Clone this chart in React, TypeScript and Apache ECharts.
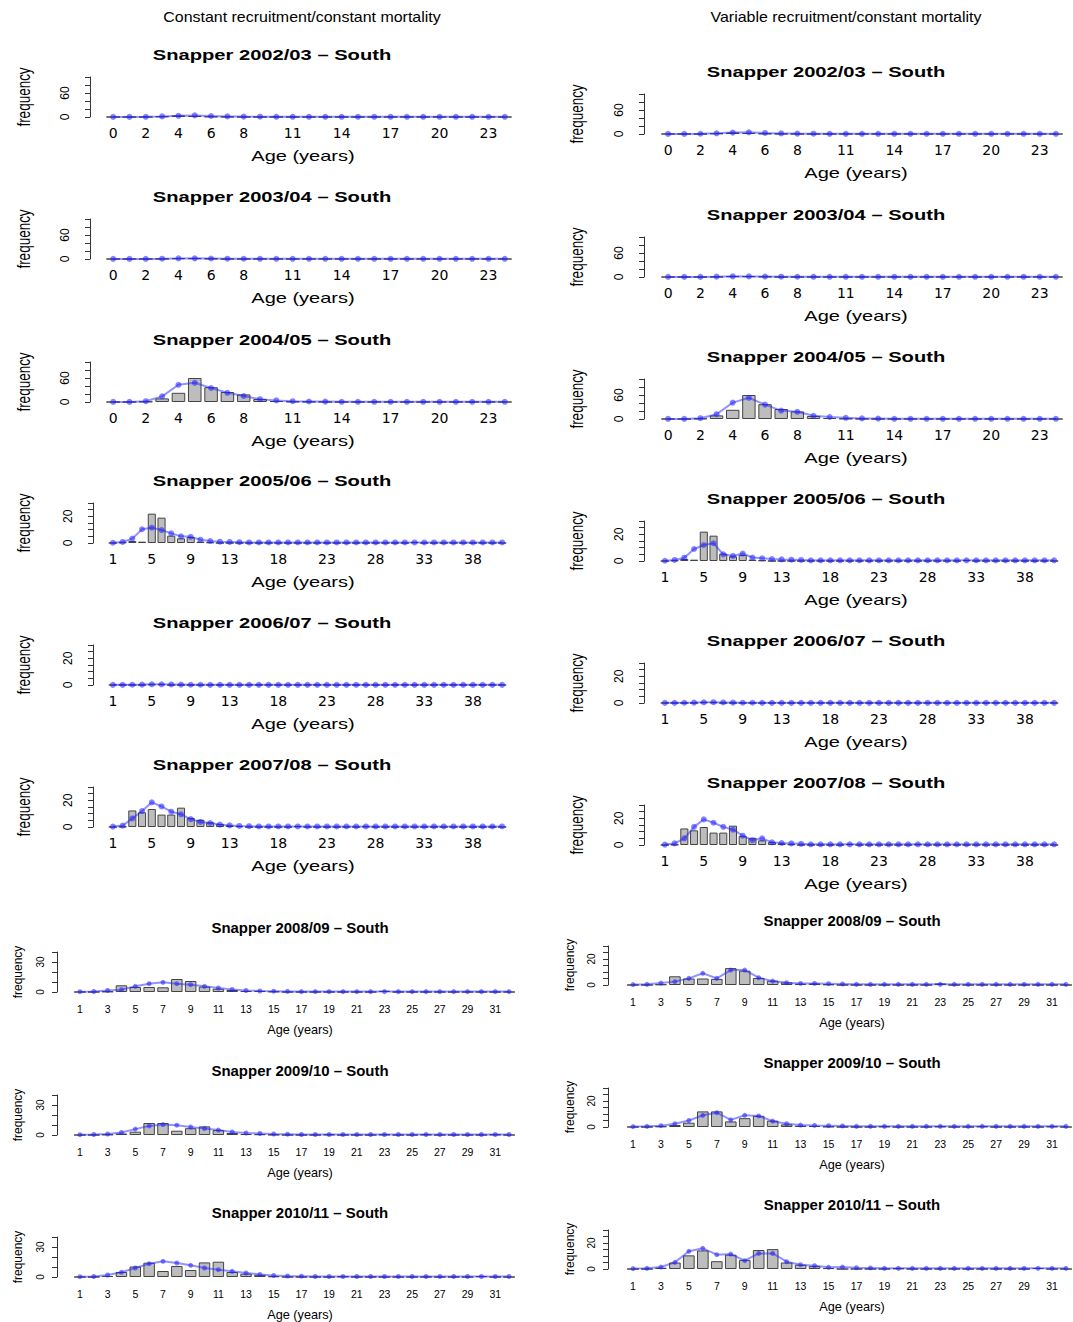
import React, { useEffect, useRef } from "react";
import * as echarts from "echarts";

// ---------- categories ----------
const agesA = ["0", "1", "2", "3", "4", "5", "6", "7", "8", "9", "10", "11", "12", "13", "14", "15", "16", "17", "18", "19", "20", "21", "22", "23", "24"];
const agesB = ["1", "2", "3", "4", "5", "6", "7", "8", "9", "10", "11", "12", "13", "14", "15", "16", "17", "18", "19", "20", "21", "22", "23", "24", "25", "26", "27", "28", "29", "30", "31", "32", "33", "34", "35", "36", "37", "38", "39", "40", "41"];
const agesC = ["1", "2", "3", "4", "5", "6", "7", "8", "9", "10", "11", "12", "13", "14", "15", "16", "17", "18", "19", "20", "21", "22", "23", "24", "25", "26", "27", "28", "29", "30", "31", "32"];

// ---------- tick labels that are shown ----------
const xTicksA = ["0", "2", "4", "6", "8", "11", "14", "17", "20", "23"];
const xTicksB = ["1", "5", "9", "13", "18", "23", "28", "33", "38"];
const xTicksC = ["1", "3", "5", "7", "9", "11", "13", "15", "17", "19", "21", "23", "25", "27", "29", "31"];
const yTicks60 = [0, 60];
const yTicks20 = [0, 20];
const yTicks30 = [0, 30];

// ---------- observed (bars), shared by both columns ----------
const obs0203 = [0, 0, 0, 1.5, 4, 3, 1, 0.5, 0, 0, 0, 0, 0, 0, 0, 0, 0, 0, 0, 0, 0, 0, 0, 0, 0];
const obs0304 = [0, 0, 0, 0.5, 2, 2, 1, 0, 0, 0, 0, 0, 0, 0, 0, 0, 0, 0, 0, 0, 0, 0, 0, 0, 0];
const obs0405 = [0, 0, 1, 9, 23, 60, 37, 25, 19, 7.5, 2.5, 1, 0.5, 0, 0, 0, 0, 0, 0, 0, 0, 0, 0, 0, 0];
const obs0506 = [0, 0.5, 1.5, 1, 22, 19, 5.5, 3.5, 4.5, 1, 0.5, 0, 0, 0, 0, 0, 0, 0, 0, 0, 0, 0, 0, 0, 0, 0, 0, 0, 0, 0, 0, 0.6, 0, 0, 0, 0, 0, 0, 0, 0, 0];
const obs0607 = [0, 0, 0, 0, 0.5, 0.5, 0, 0, 0, 0, 0, 0, 0, 0, 0, 0, 0, 0, 0, 0, 0, 0, 0, 0, 0, 0, 0, 0, 0, 0, 0, 0, 0, 0, 0, 0, 0, 0, 0, 0, 0];
const obs0708 = [0, 0.3, 12.4, 11, 13.5, 9.3, 9.3, 14.5, 6.8, 5.4, 3.5, 2.2, 1.2, 0.6, 0, 0, 0, 0, 0, 0.6, 0, 0, 0, 0, 0, 0, 0.4, 0, 0, 0, 0, 0, 0, 0, 0, 0, 0, 0, 0, 0, 0];
const obs0809 = [0, 0, 0.5, 6.7, 5, 5, 4.7, 13, 11, 5.4, 3.3, 2, 1, 1.2, 0.5, 0, 0, 0, 0, 0, 0, 0, 1.2, 0, 0, 0, 0, 0, 0, 0, 0, 0];
const obs0910 = [0, 0, 0.5, 1.5, 3.3, 12, 12, 4.3, 6.8, 8.6, 4.9, 2, 1, 0.8, 0.3, 0, 0, 0, 0.4, 0, 0, 0, 0.4, 0, 0, 0.4, 0, 0, 0, 0, 0.4, 0];
const obs1011 = [0, 0, 1, 5, 10.5, 14.3, 6, 11, 7, 14.6, 15.3, 5, 3.3, 2.2, 0.7, 0, 0, 0, 0, 0.5, 0, 0, 0, 0, 0, 0, 0, 0, 0, 0.8, 0, 0];

// ---------- expected (line), constant recruitment (left) ----------
const exp0203L = [0.3, 0.3, 0.5, 1.5, 3, 4, 2.5, 1.5, 1, 0.8, 0.5, 0.5, 0.5, 0.5, 0.5, 0.5, 0.5, 0.5, 0.5, 0.5, 0.5, 0.5, 0.5, 0.5, 0.5];
const exp0304L = [0.3, 0.3, 0.3, 0.8, 1.5, 1.6, 1.2, 0.8, 0.6, 0.5, 0.5, 0.5, 0.5, 0.5, 0.5, 0.5, 0.5, 0.5, 0.5, 0.5, 0.5, 0.5, 0.5, 0.5, 0.5];
const exp0405L = [0.3, 0.3, 2, 14, 43, 48, 35, 23, 15, 7, 4, 2, 1.2, 1, 0.5, 0.5, 0.5, 0.5, 0.5, 0.5, 0.5, 0.5, 0.5, 0.5, 0.5];
const exp0506L = [0.2, 0.8, 3.3, 10.3, 11.5, 9.7, 7.2, 5, 4.6, 2.5, 1.5, 1, 0.8, 0.6, 0.4, 0.4, 0.4, 0.4, 0.4, 0.4, 0.4, 0.4, 0.4, 0.4, 0.4, 0.4, 0.4, 0.4, 0.4, 0.4, 0.4, 0.4, 0.4, 0.4, 0.4, 0.4, 0.4, 0.4, 0.4, 0.4, 0.4];
const exp0607L = [0.1, 0.1, 0.2, 0.3, 0.5, 0.5, 0.4, 0.3, 0.2, 0.2, 0.1, 0.1, 0.1, 0.1, 0.1, 0.1, 0.1, 0.1, 0.1, 0.1, 0.1, 0.1, 0.1, 0.1, 0.1, 0.1, 0.1, 0.1, 0.1, 0.1, 0.1, 0.1, 0.1, 0.1, 0.1, 0.1, 0.1, 0.1, 0.1, 0.1, 0.1];
const exp0708L = [0.3, 1, 6.4, 12, 18.5, 15.4, 11.5, 9.5, 5.9, 3.8, 3, 1.8, 1.2, 0.8, 0.6, 0.4, 0.4, 0.4, 0.4, 0.4, 0.4, 0.4, 0.4, 0.4, 0.4, 0.4, 0.4, 0.4, 0.4, 0.4, 0.4, 0.4, 0.4, 0.4, 0.4, 0.4, 0.4, 0.4, 0.4, 0.4, 0.4];
const exp0809L = [0.3, 0.5, 1.5, 2.3, 5.7, 8.3, 9.7, 8.3, 7.3, 5.7, 4, 2.5, 1.5, 1, 0.8, 0.6, 0.4, 0.4, 0.4, 0.4, 0.4, 0.4, 0.4, 0.4, 0.4, 0.4, 0.4, 0.4, 0.4, 0.4, 0.4, 0.4];
const exp0910L = [0.3, 0.5, 1, 2.5, 5.9, 9.1, 10.4, 9.8, 8, 6.5, 4.9, 3, 2, 1.5, 1, 0.8, 0.5, 0.5, 0.5, 0.5, 0.5, 0.5, 0.5, 0.5, 0.5, 0.5, 0.5, 0.5, 0.5, 0.5, 0.5, 0.5];
const exp1011L = [0.3, 0.5, 2, 4.7, 9, 13.3, 15.7, 14, 11.7, 9, 7.3, 5.7, 4, 2.5, 1.5, 1, 0.8, 0.5, 0.5, 0.5, 0.5, 0.5, 0.5, 0.5, 0.5, 0.5, 0.5, 0.5, 0.5, 0.5, 0.5, 0.5];

// ---------- expected (line), variable recruitment (right) ----------
const exp0203R = [0.3, 0.3, 0.6, 1.8, 3.5, 4.2, 2.6, 1.5, 1, 0.8, 0.5, 0.5, 0.5, 0.5, 0.5, 0.5, 0.5, 0.5, 0.5, 0.5, 0.5, 0.5, 0.5, 0.5, 0.5];
const exp0304R = [0.3, 0.3, 0.3, 0.9, 1.6, 1.5, 1.1, 0.8, 0.6, 0.5, 0.5, 0.5, 0.5, 0.5, 0.5, 0.5, 0.5, 0.5, 0.5, 0.5, 0.5, 0.5, 0.5, 0.5, 0.5];
const exp0405R = [0.3, 0.3, 2, 12, 41, 53, 36, 21, 18, 8, 5, 3, 1.5, 1, 0.5, 0.5, 0.5, 0.5, 0.5, 0.5, 0.5, 0.5, 0.5, 0.5, 0.5];
const exp0506R = [0.2, 0.8, 2.5, 9, 12, 13.3, 5, 3.8, 5.6, 2.6, 2, 1.5, 1.2, 1, 0.8, 0.5, 0.5, 0.5, 0.5, 0.5, 0.5, 0.5, 0.5, 0.5, 0.5, 0.5, 0.5, 0.5, 0.5, 0.5, 0.5, 0.5, 0.5, 0.5, 0.5, 0.5, 0.5, 0.5, 0.5, 0.5, 0.5];
const exp0607R = [0.1, 0.1, 0.2, 0.3, 0.5, 0.6, 0.4, 0.3, 0.2, 0.2, 0.1, 0.1, 0.1, 0.1, 0.1, 0.1, 0.1, 0.1, 0.1, 0.1, 0.1, 0.1, 0.1, 0.1, 0.1, 0.1, 0.1, 0.1, 0.1, 0.1, 0.1, 0.1, 0.1, 0.1, 0.1, 0.1, 0.1, 0.1, 0.1, 0.1, 0.1];
const exp0708R = [0.3, 1.2, 5, 13.6, 19.2, 16.7, 13.6, 11.5, 7, 3.5, 5, 2, 1.5, 1.2, 0.9, 0.5, 0.5, 0.5, 0.5, 0.5, 0.5, 0.5, 0.5, 0.5, 0.5, 0.5, 0.5, 0.5, 0.5, 0.5, 0.5, 0.5, 0.5, 0.5, 0.5, 0.5, 0.5, 0.5, 0.5, 0.5, 0.5];
const exp0809R = [0.3, 0.5, 1.5, 2.6, 5.1, 9, 5.1, 11.5, 11.5, 5.6, 3, 1.8, 1.2, 1.2, 1, 0.8, 0.5, 0.5, 0.5, 0.5, 0.5, 0.5, 0.5, 0.5, 0.5, 0.5, 0.5, 0.5, 0.5, 0.5, 0.5, 0.5];
const exp0910R = [0.3, 0.5, 1, 2.5, 5, 9, 11, 5.5, 9, 8.5, 4.5, 2.5, 1.5, 1.2, 1, 0.8, 0.5, 0.5, 0.5, 0.5, 0.5, 0.5, 0.5, 0.5, 0.5, 0.5, 0.5, 0.5, 0.5, 0.5, 0.5, 0.5];
const exp1011R = [0.3, 0.5, 1.5, 5.1, 13.6, 15.9, 11, 11.5, 6.4, 12, 12, 5.6, 3.3, 2.5, 1.3, 1.5, 1, 0.8, 0.5, 0.5, 0.5, 0.5, 0.5, 0.5, 0.5, 0.5, 0.5, 0.5, 0.5, 0.5, 0.5, 0.5];

const years = ["2002/03", "2003/04", "2004/05", "2005/06", "2006/07", "2007/08", "2008/09", "2009/10", "2010/11"];
const observed = [obs0203, obs0304, obs0405, obs0506, obs0607, obs0708, obs0809, obs0910, obs1011];
const expectedL = [exp0203L, exp0304L, exp0405L, exp0506L, exp0607L, exp0708L, exp0809L, exp0910L, exp1011L];
const expectedR = [exp0203R, exp0304R, exp0405R, exp0506R, exp0607R, exp0708R, exp0809R, exp0910R, exp1011R];
const colTitles = ["Constant recruitment/constant mortality", "Variable recruitment/constant mortality"];

// ---------- layout (positions only) ----------
const titleYs = [
  [55, 197, 340, 481, 623, 765, 928, 1071, 1213],
  [72, 215, 357, 499, 641, 783, 921, 1063, 1205],
];

const SANS = "Liberation Sans, Arial, Helvetica, sans-serif";
const WIDE = "DejaVu Sans, Verdana, sans-serif";

function buildOption() {
  const grids: any[] = [];
  const xAxes: any[] = [];
  const yAxes: any[] = [];
  const series: any[] = [];
  const graphics: any[] = [];

  const txt = (text: string, x: number, y: number, font: string, sx = 1, sy = 1, rot = 0) => ({
    type: "text",
    x,
    y,
    scaleX: sx,
    scaleY: sy,
    rotation: rot,
    silent: true,
    style: {
      text,
      font,
      fill: "#000",
      textAlign: "center",
      textVerticalAlign: "middle",
      align: "center",
      verticalAlign: "middle",
    },
  });

  graphics.push(txt(colTitles[0], 302, 17, `14px ${SANS}`, 1.14));
  graphics.push(txt(colTitles[1], 846, 17, `14px ${SANS}`, 1.14));

  let idx = 0;
  for (let col = 0; col < 2; col++) {
    for (let row = 0; row < 9; row++) {
      const tY = titleYs[col][row];
      const top = row < 6;
      const kind = row < 3 ? "A" : row < 6 ? "B" : "C";
      const ages = kind === "A" ? agesA : kind === "B" ? agesB : agesC;
      const xShow = kind === "A" ? xTicksA : kind === "B" ? xTicksB : xTicksC;
      let ymax: number, step: number, yShow: number[];
      if (kind === "A") { ymax = 100; step = 20; yShow = yTicks60; }
      else if (kind === "B") { ymax = 30; step = 5; yShow = yTicks20; }
      else if (col === 0) { ymax = 40; step = 10; yShow = yTicks30; }
      else { ymax = 30; step = 5; yShow = yTicks20; }

      let left: number, width: number;
      if (kind === "A") { left = col === 0 ? 105 : 660; width = col === 0 ? 408 : 404; }
      else if (kind === "B") { left = col === 0 ? 108 : 660; width = 399; }
      else { left = col === 0 ? 73 : 626; width = col === 0 ? 443 : 450; }

      const baseline = tY + (top ? 62 : 64);
      const h = !top && col === 1 ? 39 : 40;
      const yOffset = top ? (col === 0 ? 15 : 16) : col === 0 ? 16 : 18;

      grids.push({ left, top: baseline - h, width, height: h, containLabel: false });

      xAxes.push({
        type: "category",
        gridIndex: idx,
        data: ages,
        boundaryGap: true,
        axisLine: { show: false },
        axisTick: { show: false },
        splitLine: { show: false },
        axisLabel: {
          interval: 0,
          margin: top ? 9 : 11,
          color: "#000",
          fontFamily: top ? WIDE : SANS,
          fontSize: top ? 14 : 10.5,
          formatter: (v: string) => (xShow.includes(v) ? v : ""),
        },
      });

      yAxes.push({
        type: "value",
        gridIndex: idx,
        min: 0,
        max: ymax,
        interval: step,
        position: "left",
        offset: yOffset,
        axisLine: { show: true, lineStyle: { color: "#333", width: 1 } },
        axisTick: { show: true, length: 5, lineStyle: { color: "#333", width: 1 } },
        splitLine: { show: false },
        axisLabel: {
          rotate: 90,
          margin: top ? 19 : 12,
          color: "#000",
          fontFamily: SANS,
          fontSize: top ? 12 : 10,
          formatter: (v: number) => (yShow.includes(v) ? String(v) : ""),
        },
      });

      series.push({
        type: "bar",
        xAxisIndex: idx,
        yAxisIndex: idx,
        data: observed[row],
        barCategoryGap: "17%",
        silent: true,
        itemStyle: { color: "#bdbdbd", borderColor: "#444", borderWidth: 1 },
      });
      series.push({
        type: "line",
        xAxisIndex: idx,
        yAxisIndex: idx,
        data: (col === 0 ? expectedL : expectedR)[row],
        symbol: "circle",
        symbolSize: top ? 6 : 5,
        silent: true,
        z: 3,
        lineStyle: { color: "rgba(40,40,255,0.5)", width: 2 },
        itemStyle: { color: "rgba(30,30,255,0.55)" },
      });

      // panel texts
      const titleX = top ? (col === 0 ? 272 : 826) : col === 0 ? 300 : 852;
      const xlabX = top ? (col === 0 ? 303 : 856) : col === 0 ? 300 : 852;
      const freqX = top ? (col === 0 ? 24 : 577) : col === 0 ? 18 : 570;
      const title = `Snapper ${years[row]} \u2013 South`;
      if (top) {
        graphics.push(txt(title, titleX, tY, `bold 14px ${SANS}`, 1.44));
        graphics.push(txt("Age (years)", xlabX, baseline + 39, `14px ${SANS}`, 1.43));
        graphics.push(txt("frequency", freqX, baseline - 20, `13.5px ${SANS}`, 1, 1.3, Math.PI / 2));
      } else {
        graphics.push(txt(title, titleX, tY, `bold 14px ${SANS}`, 1.07));
        graphics.push(txt("Age (years)", xlabX, baseline + 38, `12px ${SANS}`, 1.06));
        graphics.push(txt("frequency", freqX, baseline - 20, `12px ${SANS}`, 1, 1, Math.PI / 2));
      }
      idx++;
    }
  }

  return {
    animation: false,
    backgroundColor: "#fff",
    textStyle: { fontFamily: SANS },
    grid: grids,
    xAxis: xAxes,
    yAxis: yAxes,
    series,
    graphic: graphics,
  };
}

export default function App() {
  const ref = useRef<HTMLDivElement>(null);
  useEffect(() => {
    if (!ref.current) return;
    const chart = echarts.init(ref.current, undefined, { renderer: "svg" });
    chart.setOption(buildOption() as any);
    return () => chart.dispose();
  }, []);
  return (
    <div
      ref={ref}
      style={{ position: "absolute", left: 0, top: 0, width: 1073, height: 1322, background: "#fff" }}
    />
  );
}
